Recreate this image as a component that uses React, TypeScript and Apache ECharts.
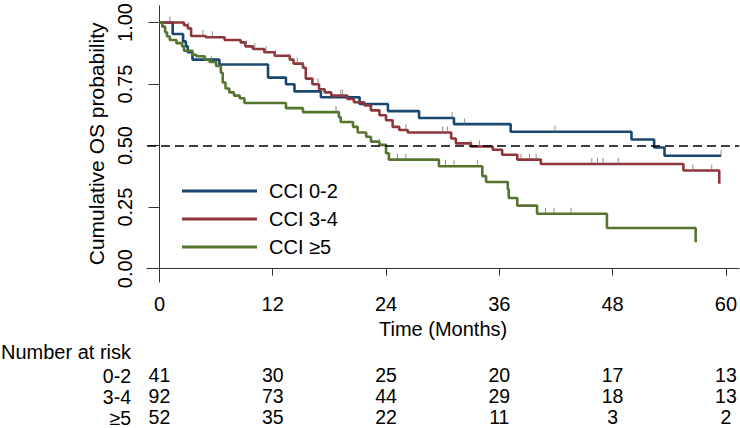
import React, { useEffect, useRef } from "react";
import * as echarts from "echarts";

const FONT = "'Liberation Sans', Arial, Helvetica, sans-serif";

const groupNames = ["CCI 0-2", "CCI 3-4", "CCI ≥5"];
const groupColors = ["#1a476f", "#90353b", "#55752f"];

// Kaplan-Meier steps: [time (months), survival after the step]
const stepsLow: number[][] = [
  [0, 1], [1.4, 0.953], [2.5, 0.923], [2.8, 0.903], [3.0, 0.879], [3.5, 0.849],
  [6.35, 0.829], [11.5, 0.776], [13.4, 0.749], [14.3, 0.72], [17.1, 0.696],
  [21.2, 0.669], [24.2, 0.64], [27.5, 0.612], [31.2, 0.587], [37.2, 0.556],
  [50.0, 0.525], [52.4, 0.492], [53.5, 0.459], [59.5, 0.459],
];
const stepsMid: number[][] = [
  [0, 1], [2.6, 0.989], [3.0, 0.976], [3.35, 0.945], [4.9, 0.94], [6.9, 0.929],
  [8.6, 0.919], [9.1, 0.903], [9.9, 0.892], [11.1, 0.879], [12.2, 0.865],
  [13.8, 0.849], [14.2, 0.833], [15.2, 0.816], [15.5, 0.772], [16.2, 0.749],
  [16.9, 0.729], [17.5, 0.716], [18.2, 0.703], [19.9, 0.689], [20.6, 0.676],
  [21.7, 0.663], [22.4, 0.643], [23.3, 0.623], [24.0, 0.603], [24.7, 0.576],
  [25.4, 0.563], [26.3, 0.553], [30.9, 0.529], [31.4, 0.509], [33.0, 0.496],
  [35.3, 0.483], [36.3, 0.463], [37.9, 0.443], [40.4, 0.425], [55.5, 0.399],
  [59.3, 0.345],
];
const stepsHigh: number[][] = [
  [0, 1], [0.3, 0.983], [0.6, 0.96], [0.8, 0.943], [1.1, 0.929], [1.8, 0.916],
  [2.4, 0.903], [2.6, 0.885], [3.5, 0.869], [3.9, 0.863], [4.8, 0.849],
  [5.3, 0.84], [6.0, 0.823], [6.5, 0.796], [6.7, 0.756], [7.0, 0.732],
  [7.4, 0.716], [7.9, 0.703], [8.5, 0.692], [9.0, 0.673], [13.4, 0.652],
  [15.2, 0.636], [19.0, 0.616], [19.2, 0.596], [20.5, 0.576], [21.0, 0.553],
  [21.9, 0.536], [22.4, 0.516], [23.3, 0.503], [24.0, 0.469], [24.3, 0.443],
  [29.6, 0.416], [34.2, 0.376], [34.6, 0.352], [36.9, 0.323], [37.0, 0.287],
  [37.9, 0.256], [40.0, 0.223], [47.4, 0.165], [56.8, 0.107],
];

// Censoring times
const censorLow = [31.0, 32.3, 41.9, 59.5];
const censorMid = [
  1.1, 3.1, 4.6, 5.6, 9.2, 10.1, 11.3, 12.3, 13.8, 14.6, 15.2, 16.8, 19.2, 19.4,
  26.1, 30.0, 30.5, 33.0, 33.9, 38.3, 39.2, 39.9, 45.8, 46.4, 47.0, 48.6, 56.5, 58.5,
];
const censorHigh = [5.5, 18.7, 23.3, 25.2, 26.1, 30.3, 31.2, 33.7, 40.9, 41.8, 43.6];

// Number at risk table
const riskMonths = [0, 12, 24, 36, 48, 60];
const riskLow = [41, 30, 25, 20, 17, 13];
const riskMid = [92, 73, 44, 29, 18, 13];
const riskHigh = [52, 35, 22, 11, 3, 2];
const riskRowLabels = ["0-2", "3-4", "≥5"];

const yTicks = [0, 0.25, 0.5, 0.75, 1];

function valueAt(steps: number[][], t: number): number {
  let v = steps[0][1];
  for (const s of steps) {
    if (s[0] <= t) v = s[1];
  }
  return v;
}

const X_MIN = -1.32;
const X_MAX = 61.41;

export default function App() {
  const ref = useRef<HTMLDivElement>(null);
  useEffect(() => {
    if (!ref.current) return;
    const chart = echarts.init(ref.current, undefined, { renderer: "svg" });
    const allSteps = [stepsLow, stepsMid, stepsHigh];
    const allCensor = [censorLow, censorMid, censorHigh];
    const allRisk = [riskLow, riskMid, riskHigh];
    const riskOffsets = [70.5, 91.5, 112.5];

    const lineSeries = allSteps.map((steps, i) => ({
      name: groupNames[i],
      type: "line",
      step: "end",
      data: steps,
      symbol: "none",
      silent: true,
      z: 3,
      lineStyle: { color: groupColors[i], width: 2.6 },
      itemStyle: { color: groupColors[i] },
      ...(i === 0
        ? {
            markLine: {
              silent: true,
              symbol: "none",
              label: { show: false },
              lineStyle: { color: "#000", type: [9, 5], width: 1.5 },
              data: [{ yAxis: 0.5 }],
            },
          }
        : {}),
    }));

    const censorSeries = allCensor.map((times, i) => ({
      name: groupNames[i] + " censored",
      type: "scatter",
      data: times.map((t) => [t, valueAt(allSteps[i], t)]),
      symbol: "rect",
      symbolSize: [1, 6],
      symbolOffset: [0, -3],
      silent: true,
      z: 4,
      itemStyle: { color: "#707070" },
    }));

    const riskAxes = allRisk.map((risk, i) => ({
      type: "value",
      gridIndex: 0,
      position: "bottom",
      offset: riskOffsets[i],
      min: X_MIN,
      max: X_MAX,
      axisLine: { show: false },
      axisTick: { show: false },
      splitLine: { show: false },
      axisLabel: {
        customValues: riskMonths,
        formatter: (v: number) => String(risk[riskMonths.indexOf(v)]),
        fontSize: 19.5,
        fontFamily: FONT,
        color: "#000",
        margin: 12,
      },
    }));

    chart.setOption({
      animation: false,
      backgroundColor: "#fff",
      textStyle: { fontFamily: FONT },
      grid: { left: 147, right: 0, top: 2, bottom: 146, containLabel: false },
      legend: {
        data: groupNames,
        orient: "vertical",
        left: 177,
        top: 176,
        icon: "rect",
        itemWidth: 75,
        itemHeight: 3,
        itemGap: 8,
        selectedMode: false,
        textStyle: { fontSize: 20, fontFamily: FONT, color: "#000", padding: [0, 0, 0, 7] },
      },
      xAxis: [
        {
          type: "value",
          min: X_MIN,
          max: X_MAX,
          name: "Time (Months)",
          nameLocation: "middle",
          nameGap: 25,
          nameTextStyle: { fontSize: 20, fontFamily: FONT, color: "#000" },
          axisLine: { show: true, lineStyle: { color: "#333", width: 1 } },
          axisTick: {
            show: true,
            customValues: riskMonths,
            length: 7,
            lineStyle: { color: "#333" },
          },
          axisLabel: {
            customValues: riskMonths,
            fontSize: 20,
            fontFamily: FONT,
            color: "#000",
            margin: 12,
          },
          splitLine: { show: false },
        },
        ...riskAxes,
      ],
      yAxis: {
        type: "value",
        min: -0.054,
        max: 1.068,
        name: "Cumulative OS probability",
        nameLocation: "middle",
        nameRotate: 90,
        nameGap: 17,
        nameTextStyle: { fontSize: 21, fontFamily: FONT, color: "#000" },
        axisLine: { show: true, lineStyle: { color: "#333", width: 1 } },
        axisTick: {
          show: true,
          customValues: yTicks,
          length: 11,
          lineStyle: { color: "#333" },
        },
        axisLabel: {
          customValues: yTicks,
          rotate: 90,
          fontSize: 20,
          fontFamily: FONT,
          color: "#000",
          margin: 12,
          formatter: (v: number) => v.toFixed(2),
        },
        splitLine: { show: false },
      },
      graphic: [
        {
          type: "text",
          left: 1,
          top: 342,
          style: { text: "Number at risk", fontSize: 20, fontFamily: FONT, fill: "#000" },
        },
        ...riskRowLabels.map((label, i) => ({
          type: "text",
          x: 131,
          y: [376, 397, 417.5][i],
          style: {
            text: label,
            fontSize: 19.5,
            fontFamily: FONT,
            fill: "#000",
            align: "right",
            verticalAlign: "middle",
          },
        })),
      ],
      series: [...lineSeries, ...censorSeries],
    });
    return () => chart.dispose();
  }, []);
  return (
    <div
      ref={ref}
      style={{ position: "fixed", left: 0, top: 0, width: 740, height: 428 }}
    />
  );
}
